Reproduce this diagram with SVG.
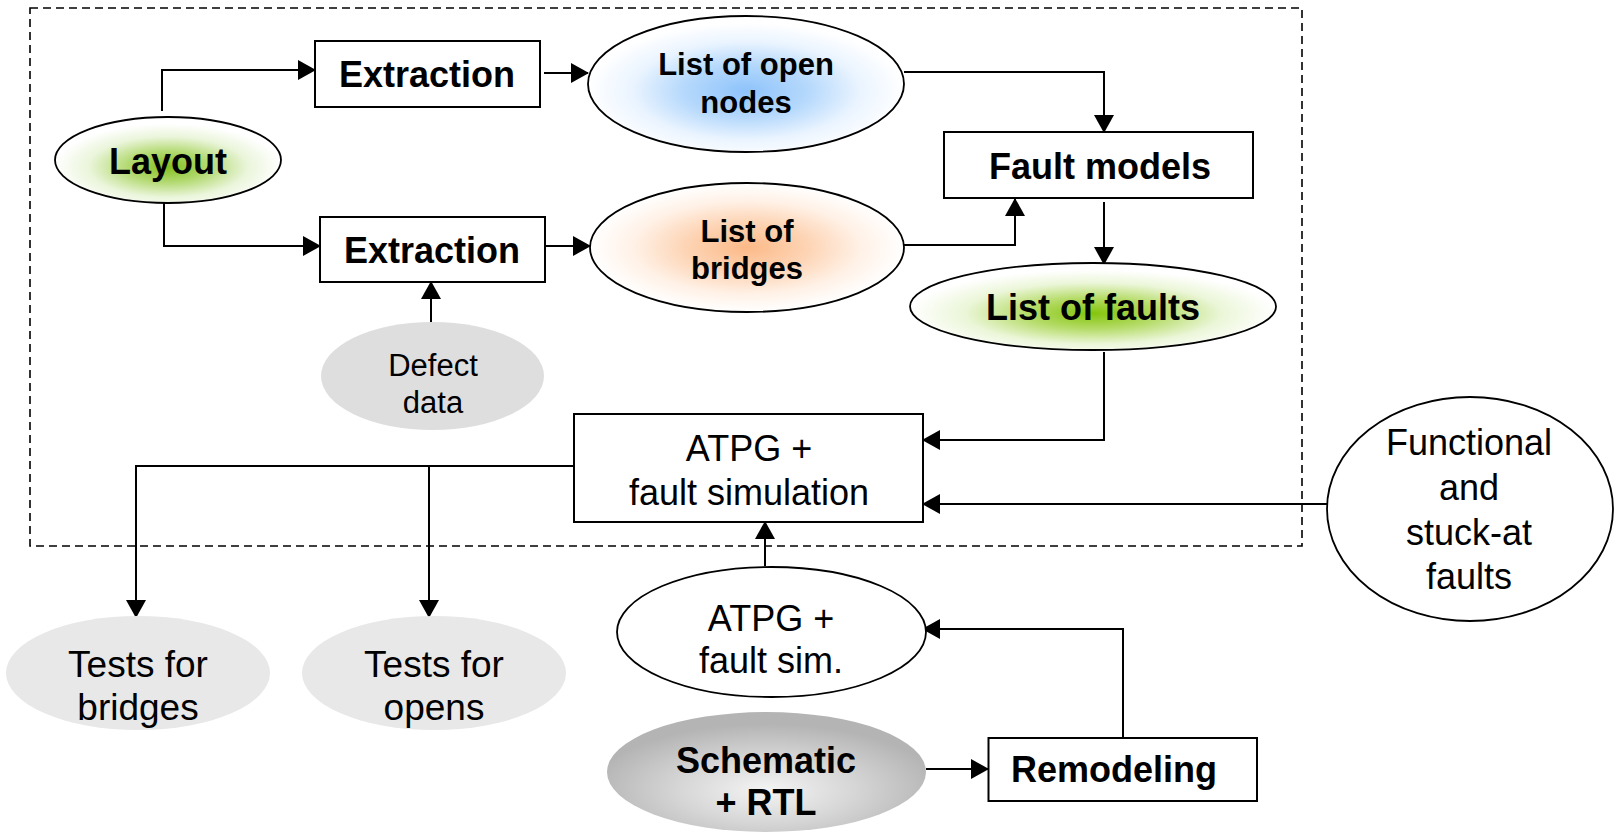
<svg xmlns="http://www.w3.org/2000/svg" width="1616" height="836" viewBox="0 0 1616 836">
<style>
.box{fill:#fff;stroke:#000;stroke-width:2}
.ell{stroke:#000;stroke-width:1.8}
.grey{stroke:none}
.b{font-family:"Liberation Sans",Arial,sans-serif;font-weight:bold;fill:#000;text-anchor:middle}
.r{font-family:"Liberation Sans",Arial,sans-serif;fill:#000;text-anchor:middle}
.con{fill:none;stroke:#000;stroke-width:2}
</style>
<defs>
<marker id="ah" viewBox="0 0 18 20" refX="17" refY="10" markerWidth="18" markerHeight="20" markerUnits="userSpaceOnUse" orient="auto">
<path d="M0,0 L18,10 L0,20 Z" fill="#000"/>
</marker>
<radialGradient id="gGreen" cx="50%" cy="58%" r="50%">
<stop offset="0" stop-color="#84c020"/>
<stop offset="0.35" stop-color="#b2d970"/>
<stop offset="0.7" stop-color="#eaf5da"/>
<stop offset="1" stop-color="#ffffff"/>
</radialGradient>
<radialGradient id="gBlue" cx="50%" cy="55%" r="50%">
<stop offset="0" stop-color="#8ec3fb"/>
<stop offset="0.4" stop-color="#b6d9fc"/>
<stop offset="0.72" stop-color="#eaf4ff"/>
<stop offset="1" stop-color="#ffffff"/>
</radialGradient>
<radialGradient id="gOrange" cx="50%" cy="50%" r="50%">
<stop offset="0" stop-color="#fcb987"/>
<stop offset="0.4" stop-color="#fdd5b6"/>
<stop offset="0.72" stop-color="#fff1e6"/>
<stop offset="1" stop-color="#ffffff"/>
</radialGradient>
<radialGradient id="gGreen2" cx="50%" cy="58%" r="50%">
<stop offset="0" stop-color="#84c40c"/>
<stop offset="0.35" stop-color="#b4db66"/>
<stop offset="0.7" stop-color="#ebf6d8"/>
<stop offset="1" stop-color="#ffffff"/>
</radialGradient>
<radialGradient id="gGrey" cx="50%" cy="65%" r="55%">
<stop offset="0" stop-color="#f4f4f4"/>
<stop offset="0.5" stop-color="#d6d6d6"/>
<stop offset="1" stop-color="#b4b4b4"/>
</radialGradient>
</defs>
<rect width="1616" height="836" fill="#fff"/>
<rect id="boundary" x="30" y="8" width="1272" height="538" fill="none" stroke="#000" stroke-width="1.6" stroke-dasharray="8,5"/>

<g id="connectors" class="con">
<path d="M162,111 V70 H315" marker-end="url(#ah)"/>
<path d="M164,199 V246 H320" marker-end="url(#ah)"/>
<path d="M544,73 H588" marker-end="url(#ah)"/>
<path d="M545,246 H590" marker-end="url(#ah)"/>
<path d="M904,72 H1104 V132" marker-end="url(#ah)"/>
<path d="M904,245 H1015 V199" marker-end="url(#ah)"/>
<path d="M1104,202 V264" marker-end="url(#ah)"/>
<path d="M1104,352 V440 H923" marker-end="url(#ah)"/>
<path d="M431,323 V282" marker-end="url(#ah)"/>
<path d="M1327,504 H923" marker-end="url(#ah)"/>
<path d="M765,566 V522" marker-end="url(#ah)"/>
<path d="M574,466 H136 V617" marker-end="url(#ah)"/>
<path d="M429,466 V617" marker-end="url(#ah)"/>
<path d="M926,769 H988" marker-end="url(#ah)"/>
<path d="M1123,738 V629 H923" marker-end="url(#ah)"/>
</g>

<g id="layout">
<ellipse class="ell" cx="168" cy="160" rx="113" ry="43" fill="url(#gGreen)"/>
<text class="b" x="168" y="174" font-size="36">Layout</text>
</g>
<g id="extraction1">
<rect class="box" x="315" y="41" width="225" height="66"/>
<text class="b" x="427" y="87" font-size="36">Extraction</text>
</g>
<g id="extraction2">
<rect class="box" x="320" y="217" width="225" height="65"/>
<text class="b" x="432" y="263" font-size="36">Extraction</text>
</g>
<g id="open-nodes">
<ellipse class="ell" cx="746" cy="84" rx="158" ry="68" fill="url(#gBlue)"/>
<text class="b" x="746" y="75" font-size="31">List of open</text>
<text class="b" x="746" y="113" font-size="31">nodes</text>
</g>
<g id="bridges">
<ellipse class="ell" cx="747" cy="247.5" rx="157" ry="64.5" fill="url(#gOrange)"/>
<text class="b" x="747" y="242" font-size="31">List of</text>
<text class="b" x="747" y="279" font-size="31">bridges</text>
</g>
<g id="fault-models">
<rect class="box" x="944" y="132" width="309" height="66"/>
<text class="b" x="1100" y="179" font-size="36">Fault models</text>
</g>
<g id="list-of-faults">
<ellipse class="ell" cx="1093" cy="306.5" rx="183" ry="43.5" fill="url(#gGreen2)"/>
<text class="b" x="1093" y="320" font-size="36">List of faults</text>
</g>
<g id="defect-data">
<ellipse class="grey" cx="432.5" cy="376" rx="111.5" ry="54" fill="#dedede"/>
<text class="r" x="433" y="376" font-size="31">Defect</text>
<text class="r" x="433" y="413" font-size="31">data</text>
</g>
<g id="atpg-box">
<rect class="box" x="574" y="414" width="349" height="108"/>
<text class="r" x="749" y="461" font-size="36">ATPG +</text>
<text class="r" x="749" y="505" font-size="36">fault simulation</text>
</g>
<g id="functional">
<ellipse class="ell" cx="1470" cy="509" rx="143" ry="112" fill="#fff"/>
<text class="r" x="1469" y="455" font-size="36">Functional</text>
<text class="r" x="1469" y="500" font-size="36">and</text>
<text class="r" x="1469" y="545" font-size="36">stuck-at</text>
<text class="r" x="1469" y="589" font-size="36">faults</text>
</g>
<g id="tests-bridges">
<ellipse class="grey" cx="138" cy="673" rx="132" ry="57" fill="#e8e8e8"/>
<text class="r" x="138" y="677" font-size="37">Tests for</text>
<text class="r" x="138" y="720" font-size="37">bridges</text>
</g>
<g id="tests-opens">
<ellipse class="grey" cx="434" cy="673" rx="132" ry="57" fill="#e8e8e8"/>
<text class="r" x="434" y="677" font-size="37">Tests for</text>
<text class="r" x="434" y="720" font-size="37">opens</text>
</g>
<g id="atpg-ellipse">
<ellipse class="ell" cx="771.5" cy="632" rx="154.5" ry="65" fill="#fff"/>
<text class="r" x="771" y="631" font-size="36">ATPG +</text>
<text class="r" x="771" y="673" font-size="36">fault sim.</text>
</g>
<g id="schematic">
<ellipse class="grey" cx="766.5" cy="772" rx="159.5" ry="60" fill="url(#gGrey)"/>
<text class="b" x="766" y="773" font-size="36">Schematic</text>
<text class="b" x="766" y="815" font-size="36">+ RTL</text>
</g>
<g id="remodeling">
<rect class="box" x="988.5" y="738" width="268.5" height="63"/>
<text class="b" x="1114" y="782" font-size="36">Remodeling</text>
</g>
</svg>
